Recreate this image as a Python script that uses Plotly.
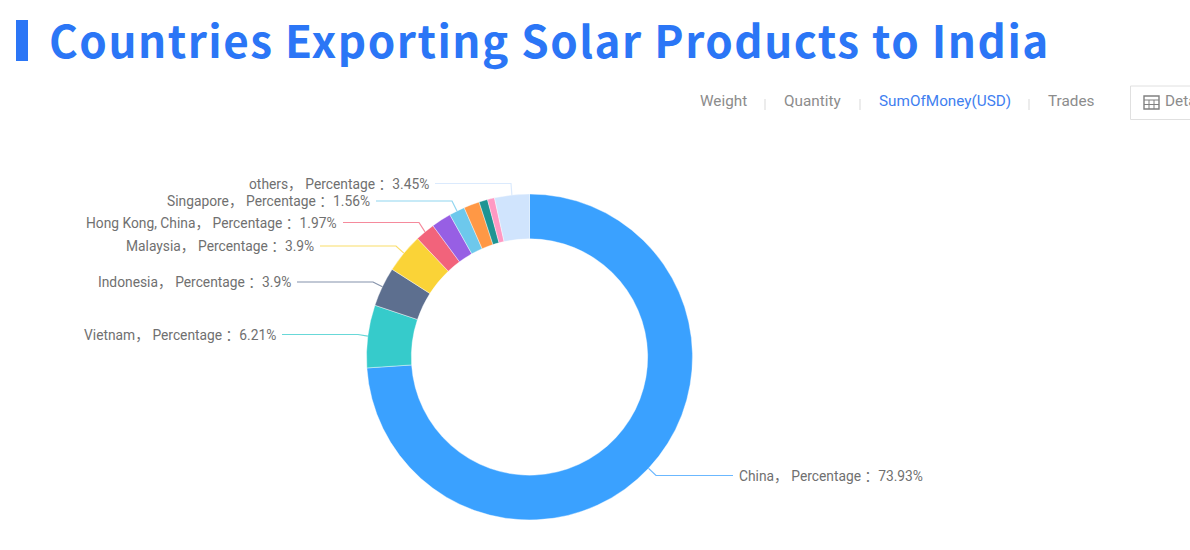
import math
import plotly.graph_objects as go

# chart data, clockwise from the top of the ring
countries = ['China', 'Vietnam', 'Indonesia', 'Malaysia', 'Hong Kong, China', 'Unnamed 1',
             'Singapore', 'Unnamed 2', 'Unnamed 3', 'Unnamed 4', 'others']
shares = [73.93, 6.21, 3.9, 3.9, 1.97, 1.97, 1.56, 1.56, 0.85, 0.7, 3.45]
colors = ['#3aa1ff', '#36cbcb', '#5d6f8f', '#fad337', '#f2637b', '#975fe4',
          '#6dc8ec', '#ff9845', '#1e9493', '#ff99c3', '#d0e4fd']
share_labels = {'China': '73.93%', 'Vietnam': '6.21%', 'Indonesia': '3.9%', 'Malaysia': '3.9%',
                'Hong Kong, China': '1.97%', 'Singapore': '1.56%', 'others': '3.45%'}
tabs = ['Weight', 'Quantity', 'SumOfMoney(USD)', 'Trades']

W, H = 1190, 550
CX, CY, R = 529.5, 357, 163

# where each label and the elbow of its leader line sit, in pixels: label y, elbow x
label_layout = {'China': (475.5, 656), 'Vietnam': (334.5, 358), 'Indonesia': (282, 373),
                'Malaysia': (246, 396), 'Hong Kong, China': (222.5, 419),
                'Singapore': (201, 452), 'others': (183.5, 511)}
line_length = 76
label_font = 'Roboto, Noto Sans CJK SC'


def px(x):
    return x / W


def py(y):
    return 1 - y / H


def add_text(fig, x, y, text, size, color, anchor='left', family='Noto Sans CJK SC'):
    fig.add_annotation(x=px(x), y=py(y), xref='paper', yref='paper', text=text, showarrow=False,
                       xanchor=anchor, yanchor='middle', borderpad=0, borderwidth=0,
                       font=dict(size=size, color=color, family=family))


def add_rect(fig, x0, y0, x1, y1, **style):
    fig.add_shape(type='rect', xref='paper', yref='paper', x0=px(x0), x1=px(x1),
                  y0=py(y0), y1=py(y1), **style)


def add_path(fig, points, color):
    path = 'M ' + ' L '.join(f'{px(x)} {py(y)}' for x, y in points)
    fig.add_shape(type='path', xref='paper', yref='paper', path=path, opacity=0.75,
                  line=dict(color=color, width=1.2))


fig = go.Figure()
fig.add_trace(go.Pie(labels=countries, values=shares, hole=0.725, sort=False,
                     direction='clockwise', rotation=0, textinfo='none', hoverinfo='label+percent',
                     marker=dict(colors=colors, line=dict(color='white', width=0.4)),
                     domain=dict(x=[px(CX - R), px(CX + R)], y=[py(CY + R), py(CY - R)]),
                     showlegend=False))

# leader lines start at each slice's mid angle
total = sum(shares)
running = 0
for name, value, color in zip(countries, shares, colors):
    mid = (running + value / 2) / total * 2 * math.pi
    running += value
    if name not in label_layout:
        continue
    label_y, elbow_x = label_layout[name]
    start = (CX + R * math.sin(mid), CY - R * math.cos(mid))
    label = f'{name}， Percentage ：{share_labels[name]}'
    if name == 'China':
        end_x = elbow_x + line_length + 1
        add_text(fig, end_x + 6, label_y, label, 13.8, '#707070', family=label_font)
    else:
        end_x = elbow_x - line_length
        add_text(fig, end_x - 6, label_y, label, 13.8, '#707070', anchor='right', family=label_font)
    add_path(fig, [start, (elbow_x, label_y), (end_x, label_y)], color)

# title with its accent bar
add_rect(fig, 16, 20, 28, 61, fillcolor='#2b76f6', line=dict(width=0))
add_text(fig, 49, 39.5, '<b><span style="letter-spacing:1.5px">Countries Exporting Solar Products to India</span></b>',
         44, '#2b76f6')

# tab row above the chart
tab_x = [700, 784, 879, 1048]
for tab, x in zip(tabs, tab_x):
    tab_color = '#3f7ff0' if tab.startswith('Sum') else '#8c8c8c'
    add_text(fig, x, 101, tab, 15.3, tab_color, family='Roboto')
for x in [765, 860, 1029]:
    fig.add_shape(type='line', xref='paper', yref='paper', x0=px(x), x1=px(x), y0=py(99), y1=py(110),
                  line=dict(color='#d9d9d9', width=1))

# details button, cut off by the right edge like the original
add_rect(fig, 1130.5, 86, 1210, 119.5, line=dict(color='#e0e0e0', width=1), fillcolor='white')
add_rect(fig, 1144, 96, 1159, 109, line=dict(color='#808080', width=1.4), fillcolor='white')
for y in [100, 104.5]:
    fig.add_shape(type='line', xref='paper', yref='paper', x0=px(1144), x1=px(1159), y0=py(y), y1=py(y),
                  line=dict(color='#808080', width=1))
for x in [1149, 1154]:
    fig.add_shape(type='line', xref='paper', yref='paper', x0=px(x), x1=px(x), y0=py(100), y1=py(109),
                  line=dict(color='#808080', width=1))
add_text(fig, 1165, 101, 'Details', 15.3, '#8c8c8c', family='Roboto')

fig.update_layout(width=W, height=H, margin=dict(l=0, r=0, t=0, b=0),
                  paper_bgcolor='white', plot_bgcolor='white')
fig.write_html('out.html', config=dict(displayModeBar=False),
               post_script="document.body.style.margin = '0';")
